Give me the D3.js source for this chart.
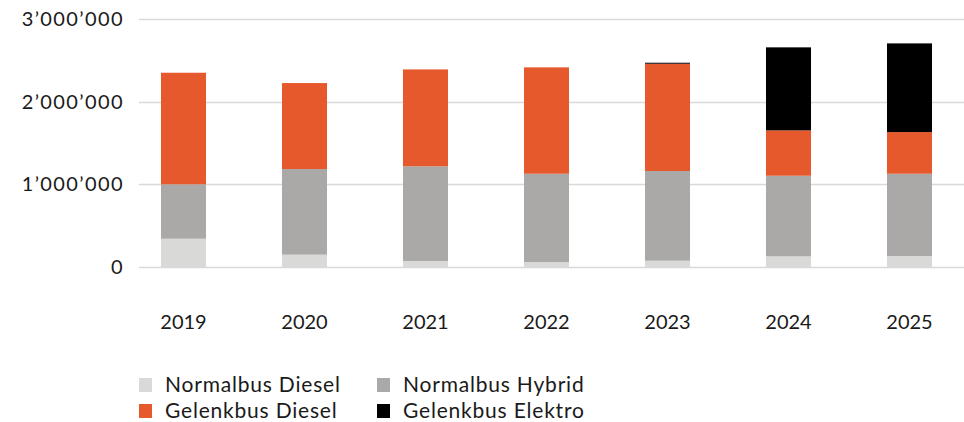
<!DOCTYPE html>
<html>
<head>
<meta charset="utf-8">
<script src="https://cdn.jsdelivr.net/npm/d3@7"></script>
<style>
  body { margin: 0; background: #fff; }
  text { font-family: Lato, "Noto Sans", sans-serif; fill: #1a1a1a; }
</style>
</head>
<body>
<svg id="chart" width="964" height="422"></svg>
<script>
// values
const years = ['2019', '2020', '2021', '2022', '2023', '2024', '2025'];
const normalDiesel = [342000, 149000, 73000, 60000, 76000, 129000, 133000];
const normalHybrid = [658000, 1036000, 1145000, 1068000, 1085000, 975000, 995000];
const gelenkDiesel = [1350000, 1040000, 1172000, 1287000, 1298000, 549000, 504000];
const gelenkElektro = [0, 0, 0, 0, 12000, 1004000, 1073000];
const yTicks = [0, 1000000, 2000000, 3000000];

const seriesNames = ['Normalbus Diesel', 'Normalbus Hybrid', 'Gelenkbus Diesel', 'Gelenkbus Elektro'];
const colors = ['#d9d9d8', '#aaa9a7', '#e5592c', '#000000'];

const svg = d3.select('#chart');

// table for the stack layout
const rows = years.map((y, i) => ({
  year: y,
  'Normalbus Diesel': normalDiesel[i],
  'Normalbus Hybrid': normalHybrid[i],
  'Gelenkbus Diesel': gelenkDiesel[i],
  'Gelenkbus Elektro': gelenkElektro[i]
}));

const x = d3.scaleBand()
  .domain(years)
  .range([123, 970])
  .paddingInner(0.628)
  .paddingOuter(0.314);

const y = d3.scaleLinear()
  .domain([0, 3000000])
  .range([267, 19]);

const fmt = v => d3.format(',')(v).replace(/,/g, '\u2019');

// gridlines
svg.append('g')
  .selectAll('line')
  .data(yTicks)
  .join('line')
  .attr('x1', 139)
  .attr('x2', 964)
  .attr('y1', d => Math.round(y(d)) + 0.5)
  .attr('y2', d => Math.round(y(d)) + 0.5)
  .attr('stroke', '#d9d9d9')
  .attr('stroke-width', 1.5);

const styleText = g => g.selectAll('text')
  .attr('font-size', 20)
  .attr('font-family', 'Lato, "Noto Sans", sans-serif')
  .attr('fill', '#1a1a1a');

// y axis labels
const yAxis = d3.axisLeft(y).tickValues(yTicks).tickFormat(fmt).tickSize(0).tickPadding(0);
svg.append('g')
  .attr('transform', 'translate(124,0)')
  .call(yAxis)
  .call(g => g.select('.domain').remove())
  .call(styleText)
  .call(g => g.selectAll('text').attr('letter-spacing', 1.4));

// stacked bars
const stack = d3.stack().keys(seriesNames);
const layers = stack(rows);

svg.append('g')
  .selectAll('g')
  .data(layers)
  .join('g')
  .attr('fill', (d, i) => colors[i])
  .selectAll('rect')
  .data(d => d)
  .join('rect')
  .attr('x', d => x(d.data.year))
  .attr('width', x.bandwidth())
  .attr('y', d => y(d[1]))
  .attr('height', d => y(d[0]) - y(d[1]));

// x axis labels
const xAxis = d3.axisBottom(x).tickSize(0).tickPadding(0);
svg.append('g')
  .attr('transform', 'translate(0,315)')
  .call(xAxis)
  .call(g => g.select('.domain').remove())
  .call(styleText);

// legend
const legendPos = [
  { x: 139, y: 385 },
  { x: 377, y: 385 },
  { x: 139, y: 411 },
  { x: 377, y: 411 }
];

const legend = svg.append('g')
  .selectAll('g')
  .data(seriesNames)
  .join('g')
  .attr('transform', (d, i) => `translate(${legendPos[i].x},${legendPos[i].y})`);

legend.append('rect')
  .attr('x', 0)
  .attr('y', -7)
  .attr('width', 13)
  .attr('height', 14)
  .attr('fill', (d, i) => colors[i]);

legend.append('text')
  .attr('x', 26)
  .attr('dy', '0.35em')
  .attr('font-size', 21)
  .attr('letter-spacing', 0.8)
  .text(d => d);
</script>
</body>
</html>
